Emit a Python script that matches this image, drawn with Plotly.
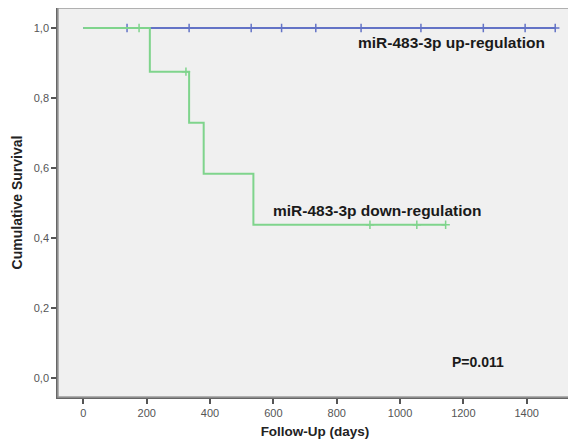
import plotly.graph_objects as go

# Kaplan-Meier data
down_times = [0, 210, 334, 380, 537, 1144]
down_surv = [1.0, 0.875, 0.729, 0.583, 0.4375, 0.4375]
down_censor = [176, 324, 905, 1053, 1144]

up_times = [0, 1490]
up_surv = [1.0, 1.0]
up_censor = [138, 334, 530, 626, 734, 877, 1066, 1263, 1395, 1490]

x_ticks = [0, 200, 400, 600, 800, 1000, 1200, 1400]
y_ticks = [0.0, 0.2, 0.4, 0.6, 0.8, 1.0]

BLUE = "#6373c6"
GREEN = "#7fd48c"


def surv_at(t, times, surv):
    s = surv[0]
    for ti, si in zip(times, surv):
        if ti <= t:
            s = si
    return s


fig = go.Figure()
fig.add_trace(go.Scatter(x=up_times, y=up_surv, mode="lines", line=dict(color=BLUE, width=2, shape="hv"),
                         showlegend=False, hoverinfo="skip"))
fig.add_trace(go.Scatter(x=up_censor, y=[surv_at(t, up_times, up_surv) for t in up_censor], mode="markers",
                         marker=dict(symbol="cross-thin", size=6, line=dict(color=BLUE, width=1.5)),
                         showlegend=False))
fig.add_trace(go.Scatter(x=down_times, y=down_surv, mode="lines", line=dict(color=GREEN, width=2, shape="hv"),
                         showlegend=False, hoverinfo="skip"))
fig.add_trace(go.Scatter(x=down_censor, y=[surv_at(t, down_times, down_surv) for t in down_censor], mode="markers",
                         marker=dict(symbol="cross-thin", size=6, line=dict(color=GREEN, width=1.5)),
                         showlegend=False))

fig.add_annotation(x=1161, y=0.957, text="<b>miR-483-3p up-regulation</b>", showarrow=False,
                   font=dict(family="Liberation Sans, Arial", size=15.5, color="#1a1a1a"))
fig.add_annotation(x=927, y=0.479, text="<b>miR-483-3p down-regulation</b>", showarrow=False,
                   font=dict(family="Liberation Sans, Arial", size=15.5, color="#1a1a1a"))
fig.add_annotation(x=1245, y=0.044, text="<b>P=0.011</b>", showarrow=False,
                   font=dict(family="Liberation Sans, Arial", size=14, color="#1a1a1a"))

fig.add_shape(type="rect", xref="paper", yref="paper", x0=0, y0=0, x1=1, y1=1,
              line=dict(color="#9a9a9a", width=1.5), layer="above")

# page body has an 8px default margin; size the figure so the plot lands where the reference has it
fig.update_layout(
    width=568, height=436,
    margin=dict(l=50, r=4, t=0, b=47, autoexpand=False),
    paper_bgcolor="white", plot_bgcolor="#f0f0f0",
    separators=",.",
    font=dict(family="Liberation Sans, Arial", size=11, color="#555555"),
)
fig.update_xaxes(range=[-80, 1543], tickvals=x_ticks, tickformat="d", showgrid=False, zeroline=False,
                 showline=True, linecolor="#666666", linewidth=1.5, automargin=False,
                 ticks="outside", ticklen=5, tickwidth=1.5, tickcolor="#555555",
                 title=dict(text="<b>Follow-Up (days)</b>", font=dict(size=13.5, color="#222222"), standoff=9))
fig.update_yaxes(range=[-0.055, 1.057], tickvals=y_ticks, tickformat=".1f", showgrid=False, zeroline=False,
                 showline=True, linecolor="#666666", linewidth=1.5, automargin=False,
                 ticks="outside", ticklen=5, tickwidth=1.5, tickcolor="#555555",
                 title=dict(text="<b>Cumulative Survival</b>", font=dict(size=14, color="#222222"), standoff=8))

fig.write_html("out.html")
